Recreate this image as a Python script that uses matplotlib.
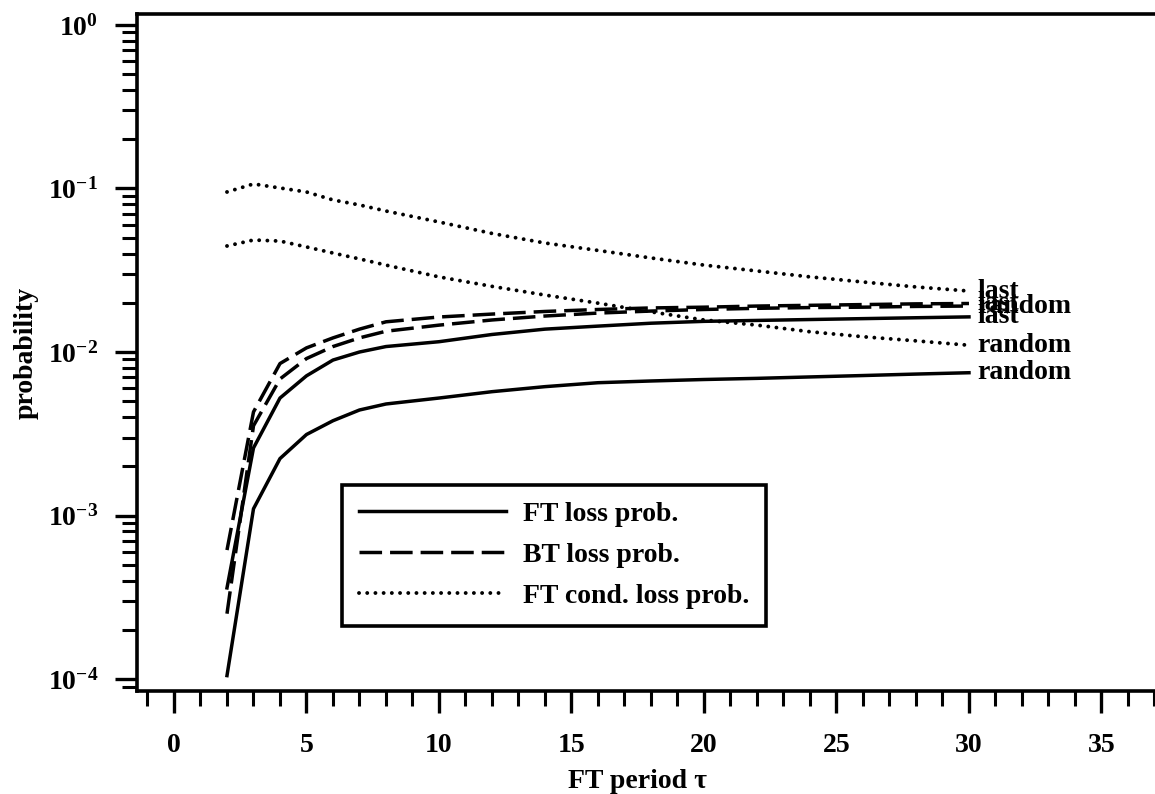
import matplotlib
matplotlib.use("Agg")
import matplotlib.pyplot as plt
from matplotlib.ticker import LogLocator, MultipleLocator, NullFormatter

# FT period tau
tau = [2, 3, 4, 5, 6, 7, 8, 10, 12, 14, 16, 18, 20, 22, 24, 26, 28, 30]

# FT loss probability
ft_loss_last = [3.61e-4, 2.59e-3, 5.23e-3, 7.15e-3, 8.93e-3, 1.00e-2, 1.08e-2, 1.156e-2,
                1.28e-2, 1.38e-2, 1.44e-2, 1.50e-2, 1.54e-2, 1.56e-2, 1.58e-2, 1.60e-2,
                1.62e-2, 1.64e-2]
ft_loss_random = [1.05e-4, 1.10e-3, 2.23e-3, 3.13e-3, 3.80e-3, 4.42e-3, 4.81e-3, 5.23e-3,
                  5.72e-3, 6.14e-3, 6.49e-3, 6.65e-3, 6.79e-3, 6.90e-3, 7.04e-3, 7.18e-3,
                  7.33e-3, 7.47e-3]

# BT loss probability
bt_loss_last = [6.15e-4, 4.30e-3, 8.50e-3, 1.06e-2, 1.22e-2, 1.38e-2, 1.53e-2, 1.637e-2,
                1.706e-2, 1.77e-2, 1.82e-2, 1.86e-2, 1.88e-2, 1.91e-2, 1.93e-2, 1.95e-2,
                1.97e-2, 1.98e-2]
bt_loss_random = [2.51e-4, 3.54e-3, 6.84e-3, 9.12e-3, 1.08e-2, 1.22e-2, 1.34e-2, 1.46e-2,
                  1.57e-2, 1.66e-2, 1.73e-2, 1.78e-2, 1.82e-2, 1.85e-2, 1.87e-2, 1.88e-2,
                  1.90e-2, 1.91e-2]

# FT conditional loss probability
ft_cond_last = [0.0952, 0.1066, 0.1007, 0.0952, 0.0851, 0.0793, 0.0728, 0.0624, 0.0531,
                0.0464, 0.0418, 0.0376, 0.0340, 0.0313, 0.0288, 0.0268, 0.0250, 0.0236]
ft_cond_random = [0.0445, 0.0484, 0.0477, 0.0439, 0.0403, 0.0371, 0.0340, 0.0288, 0.0252,
                  0.0223, 0.0199, 0.0176, 0.0157, 0.0146, 0.0133, 0.0124, 0.0117, 0.0110]

x_ticks = [0, 5, 10, 15, 20, 25, 30, 35]

plt.rcParams["font.family"] = ["Liberation Serif", "DejaVu Serif"]
plt.rcParams["font.weight"] = "bold"
plt.rcParams["axes.labelweight"] = "bold"
plt.rcParams["mathtext.fontset"] = "custom"
plt.rcParams["mathtext.rm"] = "Liberation Serif:bold"
plt.rcParams["mathtext.it"] = "Liberation Serif:italic:bold"
plt.rcParams["mathtext.bf"] = "Liberation Serif:bold"
plt.rcParams["font.size"] = 20

fig = plt.figure(figsize=(11.55, 7.94), dpi=100)
ax = fig.add_axes([137 / 1155, 1 - 691 / 794, (1155 - 137) / 1155, (691 - 14) / 794])

LW = 2.5
solid = dict(color="black", lw=LW, linestyle="-")
dashed = dict(color="black", lw=LW, linestyle=(0, (6.5, 2.3)))
dotted = dict(color="black", lw=2.8, linestyle=(0, (0.01, 2.1)),
              dash_capstyle="round")

ax.plot(tau, ft_loss_last, label="FT loss prob.", **solid)
ax.plot(tau, ft_loss_random, label="_nolegend_", **solid)
ax.plot(tau, bt_loss_last, label="BT loss prob.", **dashed)
ax.plot(tau, bt_loss_random, label="_nolegend_", **dashed)
ax.plot(tau, ft_cond_last, label="FT cond. loss prob.", **dotted)
ax.plot(tau, ft_cond_random, label="_nolegend_", **dotted)

# end-of-curve tags
for name, vals in [("last", ft_cond_last), ("last", bt_loss_last),
                   ("random", bt_loss_random), ("last", ft_loss_last),
                   ("random", ft_cond_random), ("random", ft_loss_random)]:
    ax.annotate(name, xy=(tau[-1], vals[-1]), xytext=(6, 0),
                textcoords="offset points", ha="left", va="center",
                fontsize=20, annotation_clip=False)

ax.set_yscale("log")
ax.set_xlim(-1.396, 37.02)
ax.set_ylim(10 ** -4.073, 10 ** 0.067)

ax.xaxis.set_major_locator(plt.FixedLocator(x_ticks))
ax.xaxis.set_minor_locator(MultipleLocator(1))
ax.yaxis.set_major_locator(LogLocator(base=10, numticks=10))
ax.yaxis.set_minor_locator(LogLocator(base=10, subs=range(2, 10), numticks=20))
ax.yaxis.set_minor_formatter(NullFormatter())

ax.tick_params(axis="both", which="major", length=16, width=2.4, direction="out",
               labelsize=20)
ax.tick_params(axis="both", which="minor", length=11, width=2.2, direction="out")
ax.tick_params(axis="x", which="major", pad=14)
ax.tick_params(axis="y", which="major", pad=12)

for side in ("left", "top", "bottom"):
    ax.spines[side].set_linewidth(2.6)
ax.spines["right"].set_visible(False)

ax.set_xlabel("FT period τ", fontsize=20, fontweight="bold")
ax.xaxis.set_label_coords((638 - 137) / 1018, -(782 - 691) / 677)
ax.xaxis.label.set_verticalalignment("center")
ax.set_ylabel("probability", fontsize=20, fontweight="bold")
ax.yaxis.set_label_coords((26 - 137) / 1018, (691 - 353) / 677)
ax.yaxis.label.set_verticalalignment("center")
ax.yaxis.label.set_horizontalalignment("center")

leg = ax.legend(loc="upper left", bbox_to_anchor=(342 / 1155, 1 - 485 / 794),
                bbox_transform=fig.transFigure, borderaxespad=0, fontsize=20,
                handlelength=5.3, handletextpad=0.6, borderpad=0.6,
                labelspacing=0.56, frameon=True, fancybox=False,
                edgecolor="black", framealpha=1)
leg.get_frame().set_linewidth(2.6)

fig.savefig("out.png", dpi=100, facecolor="white")
